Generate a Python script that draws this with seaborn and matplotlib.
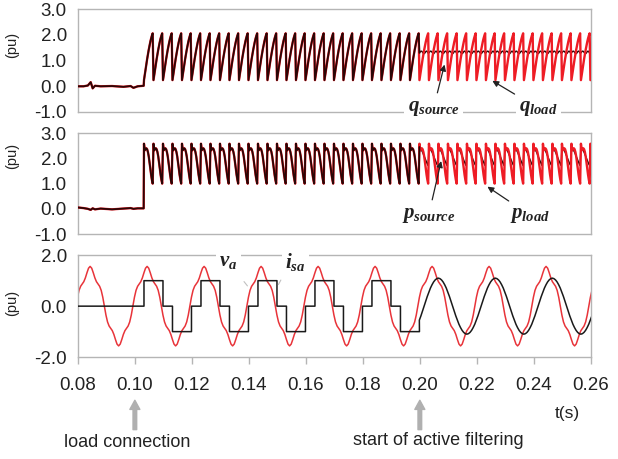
import numpy as np
import seaborn as sns
import matplotlib.pyplot as plt

sns.set_theme(style="white")
plt.rcParams['font.family'] = ['Liberation Sans', 'DejaVu Sans']
plt.rcParams['mathtext.fontset'] = 'custom'
plt.rcParams['mathtext.it'] = 'Liberation Serif:italic:bold'
plt.rcParams['mathtext.rm'] = 'Liberation Serif:bold'

# --- data ----------------------------------------------------------------
cycle = 0.02            # 50 Hz
t_load = 0.1032         # load connection instant
teeth_before_filter = 29  # 300 Hz ripple teeth until active filtering starts
n_teeth = 48

# one 300 Hz ripple tooth (12 samples)
q_tooth = [0.24, 0.45, 0.66, 0.86, 1.06, 1.25, 1.42, 1.58, 1.73, 1.86, 1.97, 2.06]
p_tooth = [2.58, 2.32, 2.38, 2.40, 2.36, 2.25, 2.08, 1.85, 1.60, 1.35, 1.15, 1.00]
q_src_tooth = [1.30, 1.34, 1.37, 1.36, 1.32, 1.28, 1.27, 1.30, 1.35, 1.37, 1.34, 1.29]
p_src_tooth = [2.45, 2.40, 2.36, 2.30, 2.24, 2.16, 2.08, 2.00, 1.92, 1.84, 1.77, 1.72]

# no-load interval
pre_t = [0.0795, 0.0820, 0.0835, 0.0845, 0.0852, 0.0860, 0.0880, 0.0920,
         0.0960, 0.0985, 0.0995, 0.1010, 0.1031]
q_pre = [0.0, 0.0, 0.03, 0.16, -0.08, 0.02, 0.0, 0.01, -0.02, 0.01, -0.06, 0.0, 0.02]
p_pre = [0.06, 0.03, 0.0, -0.04, 0.02, -0.02, 0.01, -0.02, 0.01, 0.03, 0.0, 0.02, 0.02]

# supply voltage v_a, one cycle from rising zero crossing (10 deg steps)
va_t0 = 0.0793
va_cycle = [0.0, 0.35, 0.62, 0.78, 0.87, 0.96, 1.11, 1.31, 1.49, 1.56, 1.49, 1.31,
            1.11, 0.96, 0.87, 0.78, 0.62, 0.35, 0.0, -0.35, -0.62, -0.78, -0.87, -0.96,
            -1.11, -1.31, -1.49, -1.56, -1.49, -1.31, -1.11, -0.96, -0.87, -0.78, -0.62, -0.35]

# source current i_sa: six-step levels per 60 deg, then sinusoid after filtering
isa_steps = [1, 1, 0, -1, -1, 0]
isa_sine_t0 = 0.2015
isa_sine = [0.0, 0.19, 0.38, 0.55, 0.71, 0.84, 0.95, 1.03, 1.08, 1.10, 1.08, 1.03,
            0.95, 0.84, 0.71, 0.55, 0.38, 0.19, 0.0, -0.19, -0.38, -0.55, -0.71, -0.84,
            -0.95, -1.03, -1.08, -1.10, -1.08, -1.03, -0.95, -0.84, -0.71, -0.55, -0.38, -0.19]

xticks = [0.08, 0.10, 0.12, 0.14, 0.16, 0.18, 0.20, 0.22, 0.24, 0.26]

# --- build series --------------------------------------------------------
dt = cycle / 72
t_rip = t_load + dt * np.arange(12 * n_teeth)
k = 12 * teeth_before_filter
t_all = np.concatenate([pre_t, t_rip])
q_load = np.concatenate([q_pre, np.tile(q_tooth, n_teeth)])
p_load = np.concatenate([p_pre, np.tile(p_tooth, n_teeth)])
q_source = np.concatenate([q_pre, np.tile(q_tooth, teeth_before_filter),
                           np.tile(q_src_tooth, n_teeth - teeth_before_filter)])
p_source = np.concatenate([p_pre, np.tile(p_tooth, teeth_before_filter),
                           np.tile(p_src_tooth, n_teeth - teeth_before_filter)])
split = len(pre_t) + k

t_va = va_t0 + cycle / 36 * np.arange(36 * 10)
va = np.tile(va_cycle, 10)

edges = t_load + cycle / 6 * np.arange(teeth_before_filter + 1)
levels = np.array([isa_steps[i % 6] for i in range(teeth_before_filter)])
t_sine = isa_sine_t0 - cycle + cycle / 36 * np.arange(36 * 5)
keep = t_sine >= edges[-1] - 1e-4
t_isa = np.concatenate([[0.0795, t_load], np.repeat(edges, 2)[1:-1], t_sine[keep]])
isa = np.concatenate([[0, 0], np.repeat(levels, 2), np.tile(isa_sine, 5)[keep]])

# --- figure --------------------------------------------------------------
RED = '#ee1c25'
DARK = '#2a0606'
fig = plt.figure(figsize=(6.18, 4.59), dpi=100)
fig.patch.set_facecolor('white')
ax1 = fig.add_axes([0.126, 0.756, 0.830, 0.224])
ax2 = fig.add_axes([0.126, 0.490, 0.830, 0.220])
ax3 = fig.add_axes([0.126, 0.222, 0.830, 0.222])

kw = dict(estimator=None, sort=False)
for ax, load, src in [(ax1, q_load, q_source), (ax2, p_load, p_source)]:
    sns.lineplot(x=t_all, y=load, ax=ax, color=RED, lw=1.7, zorder=3, **kw)
    sns.lineplot(x=t_all[:split + 1], y=src[:split + 1], ax=ax, color=DARK, lw=1.3, zorder=4, **kw)
    sns.lineplot(x=t_all[split:], y=src[split:], ax=ax, color=DARK, lw=1.0, zorder=2, **kw)

sns.lineplot(x=t_va, y=va, ax=ax3, color='#e8343a', lw=1.1, zorder=2, **kw)
sns.lineplot(x=t_isa, y=isa, ax=ax3, color='#1a1a1a', lw=1.1, zorder=3, **kw)


def style(ax, ylim, yticks, label_y):
    ax.set_xlim(0.08, 0.26)
    ax.set_ylim(*ylim)
    ax.set_yticks(yticks)
    ax.set_yticklabels([f"{v:.1f}" for v in yticks])
    ax.set_facecolor('white')
    for s in ax.spines.values():
        s.set_color('#b5b5b5')
        s.set_linewidth(1.0)
    ax.tick_params(axis='y', left=False, length=0, pad=8, labelsize=13.5, colors='#222222')
    ax.set_ylabel('(pu)', fontsize=10.5, color='#222222')
    ax.yaxis.set_label_coords(-0.115, label_y)


style(ax1, (-1, 3), [-1, 0, 1, 2, 3], 0.65)
style(ax2, (-1, 3), [-1, 0, 1, 2, 3], 0.77)
style(ax3, (-2, 2), [-2, 0, 2], 0.53)
for ax in (ax1, ax2):
    ax.set_xticks([])
ax3.set_xticks(xticks)
ax3.set_xticklabels([f"{v:.2f}" for v in xticks])
ax3.tick_params(axis='x', bottom=True, direction='out', length=5, width=1,
                color='#b5b5b5', pad=9, labelsize=13.5, labelcolor='#222222')

box = dict(boxstyle='square,pad=0.15', fc='white', ec='none')
arr = dict(arrowstyle='-|>', color='#222222', lw=0.9, mutation_scale=9)
ax1.annotate(r'$q_{source}$', xy=(0.2089, 0.95), xytext=(0.2048, -0.85), ha='center', va='center',
             fontsize=15, color='#222222', bbox=box, arrowprops=arr, annotation_clip=False, zorder=6)
ax1.annotate(r'$q_{load}$', xy=(0.2246, 0.27), xytext=(0.2415, -0.85), ha='center', va='center',
             fontsize=15, color='#222222', bbox=box, arrowprops=arr, annotation_clip=False, zorder=6)
ax2.annotate(r'$p_{source}$', xy=(0.2077, 2.0), xytext=(0.2031, -0.25), ha='center', va='center',
             fontsize=15, color='#222222', bbox=box, arrowprops=arr, annotation_clip=False, zorder=6)
ax2.annotate(r'$p_{load}$', xy=(0.2229, 0.94), xytext=(0.2386, -0.25), ha='center', va='center',
             fontsize=15, color='#222222', bbox=box, arrowprops=arr, annotation_clip=False, zorder=6)

thin = dict(arrowstyle='-', color='#c0c0c0', lw=0.8)
ax3.annotate('', xy=(0.1401, 0.71), xytext=(0.1377, 1.05), arrowprops=thin)
ax3.annotate('', xy=(0.1499, 0.75), xytext=(0.1517, 1.12), arrowprops=thin)
ax3.text(0.1328, 1.75, r'$v_a$', ha='center', va='center', fontsize=15, color='#222222',
         bbox=box, clip_on=False, zorder=6)
ax3.text(0.1563, 1.75, r'$i_{sa}$', ha='center', va='center', fontsize=15, color='#222222',
         bbox=box, clip_on=False, zorder=6)

# event markers under the time axis
big = dict(arrowstyle='simple,head_width=0.6,head_length=0.55,tail_width=0.22',
           color='#b0b0b0', mutation_scale=12, shrinkA=0, shrinkB=0)
for tx in (0.10, 0.20):
    ax3.annotate('', xy=(tx, 0.128), xycoords=('data', 'figure fraction'),
                 xytext=(tx, 0.064), textcoords=('data', 'figure fraction'),
                 arrowprops=big, annotation_clip=False)

fig.text(0.2055, 0.037, 'load connection', ha='center', va='center', fontsize=13, color='#222222')
fig.text(0.709, 0.041, 'start of active filtering', ha='center', va='center', fontsize=13, color='#222222')
fig.text(0.9175, 0.100, 't(s)', ha='center', va='center', fontsize=12.5, color='#222222')

fig.savefig('out.png', dpi=100, facecolor='white')
